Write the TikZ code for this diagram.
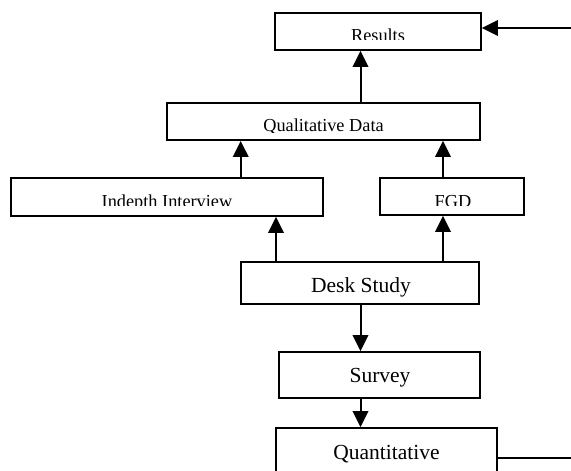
\documentclass[tikz,border=0pt]{standalone}
\usepackage{fontspec}
\setmainfont{Liberation Serif}
\usetikzlibrary{arrows.meta}
\tikzset{
  box/.style={draw, line width=1.8pt, rectangle, inner sep=0pt},
  arr/.style={line width=2pt, -{Triangle[length=16pt,width=15.5pt]}},
  conn/.style={line width=1.8pt},
  small/.style={font=\fontsize{18.3pt}{20pt}\selectfont, inner sep=0pt, anchor=base},
  large/.style={font=\fontsize{21.5pt}{24pt}\selectfont, inner sep=0pt, anchor=base},
}
\begin{document}
\begin{tikzpicture}[x=1pt,y=-1pt]
\clip (0,0) rectangle (571,471);
\fill[white] (0,0) rectangle (571,471);
% boxes
\node[box, minimum width=206pt, minimum height=37pt] (res) at (378,31.5) {};
\node[box, minimum width=313pt, minimum height=37pt] (qual) at (323.5,121.5) {};
\node[box, minimum width=312pt, minimum height=38pt] (ind) at (167,197) {};
\node[box, minimum width=144pt, minimum height=37pt] (fgd) at (452,196.5) {};
\node[box, minimum width=238pt, minimum height=42pt] (desk) at (360,283) {};
\node[box, minimum width=201pt, minimum height=46pt] (survey) at (379.5,375) {};
\node[box, minimum width=221pt, minimum height=60pt] (quant) at (386.5,458) {};
% texts (clipped like the original)
\begin{scope}\clip (276,14) rectangle (480,39.5);
\node[small] (tres) at (378,41.4) {Results};
\end{scope}
\begin{scope}\clip (168,104) rectangle (479,132.5);
\node[small] (tqual) at (323.5,131.3) {Qualitative Data};
\end{scope}
\begin{scope}\clip (12,179) rectangle (322,205.7);
\node[small] (tind) at (167,207.1) {Indepth Interview};
\end{scope}
\begin{scope}\clip (381,179) rectangle (523,205.7);
\node[small] (tfgd) at (453,207.1) {FGD};
\end{scope}
\node[large] (tdesk) at (361,292.6) {Desk Study};
\node[large] (tsurvey) at (380,382.5) {Survey};
\node[large] (tquant) at (386.5,459.2) {Quantitative};
% x positions of connectors
\coordinate (xa) at (360.5,0);
\coordinate (xb) at (240.7,0);
\coordinate (xc) at (443,0);
\coordinate (xd) at (276,0);
\coordinate (inR) at (571,28);
\coordinate (outQ) at (571,458);
% connectors
\draw[arr] (qual.north -| xa) -- (res.south -| xa);
\draw[arr] (ind.north -| xb) -- (qual.south -| xb);
\draw[arr] (fgd.north -| xc) -- (qual.south -| xc);
\draw[arr] (desk.north -| xd) -- (ind.south -| xd);
\draw[arr] (desk.north -| xc) -- (fgd.south -| xc);
\draw[arr] (desk.south -| xa) -- (survey.north -| xa);
\draw[arr] (survey.south -| xa) -- (quant.north -| xa);
\draw[arr] (inR) -- (res.east |- inR);
\draw[conn] (quant.east |- outQ) -- (outQ);
\end{tikzpicture}
\end{document}
